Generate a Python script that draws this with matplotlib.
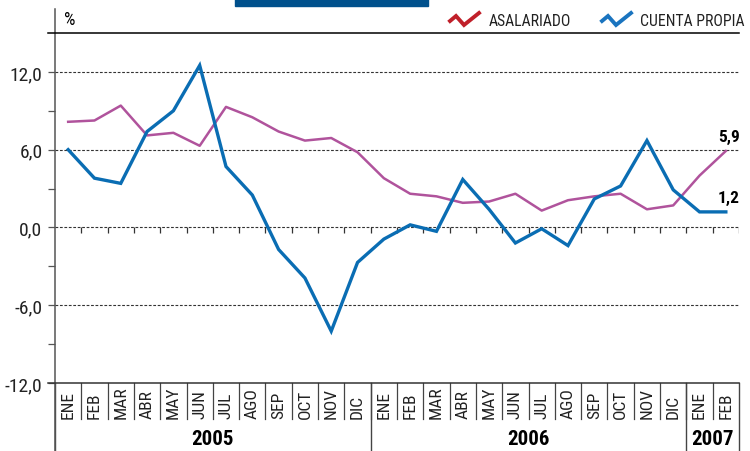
import numpy as np
import matplotlib.pyplot as plt
from matplotlib.lines import Line2D
from matplotlib.patches import Rectangle
import matplotlib.transforms as mtransforms
from matplotlib import font_manager

# pick a narrow font if one is installed
names = {f.name for f in font_manager.fontManager.ttflist}
narrow = [n for n in ['Liberation Sans Narrow', 'DejaVu Sans Condensed', 'Roboto Condensed',
                      'Open Sans Condensed'] if n in names]
plt.rcParams['font.family'] = narrow + ['Liberation Sans', 'DejaVu Sans']
cond = bool(narrow)

months = ['ENE', 'FEB', 'MAR', 'ABR', 'MAY', 'JUN', 'JUL', 'AGO', 'SEP', 'OCT', 'NOV', 'DIC',
          'ENE', 'FEB', 'MAR', 'ABR', 'MAY', 'JUN', 'JUL', 'AGO', 'SEP', 'OCT', 'NOV', 'DIC',
          'ENE', 'FEB']
years = ['2005', '2006', '2007']
year_counts = [12, 12, 2]

asalariado = [8.15, 8.25, 9.4, 7.1, 7.3, 6.3, 9.3, 8.5, 7.4, 6.7, 6.9, 5.8,
              3.8, 2.6, 2.4, 1.9, 2.0, 2.6, 1.3, 2.1, 2.4, 2.6, 1.4, 1.7,
              4.0, 5.9]
cuenta_propia = [6.0, 3.8, 3.4, 7.4, 9.0, 12.5, 4.7, 2.5, -1.7, -3.9, -8.0, -2.7,
                 -0.9, 0.2, -0.3, 3.7, 1.4, -1.2, -0.1, -1.4, 2.2, 3.2, 6.7, 2.9,
                 1.2, 1.2]
y_ticks = [-12, -6, 0, 6, 12]
y_minor = [-9, -3, 3, 9]

PINK = '#B0539C'
BLUE = '#0A6DB3'
W, H = 750, 452

fig = plt.figure(figsize=(7.5, 4.52), dpi=100)
ax = fig.add_axes([55 / W, 1 - 384 / H, 684 / W, 350 / H])


def fx(px):
    return px / W


def fy(py):
    return 1 - py / H


x = np.arange(len(months))
ax.set_xlim(-0.5, len(months) - 0.5)
ax.set_ylim(-12, 15)

# grid lines
for v in y_ticks[1:]:
    ax.axhline(v, color='#333333', lw=0.8, ls=(0, (2.5, 1.5)), zorder=1)

# small ticks on the zero line
bounds = np.arange(0.5, len(months), 1.0)
ax.vlines(bounds, -0.4, 0, color='#333333', lw=0.9, zorder=1)

ax.plot(x, asalariado, color=PINK, lw=1.8, zorder=3, solid_joinstyle='round')
ax.plot(x, cuenta_propia, color=BLUE, lw=2.4, zorder=4, solid_joinstyle='miter')

ax.annotate('5,9', (x[-1], asalariado[-1]), xytext=(2, 5), textcoords='offset points',
            ha='center', va='bottom', fontsize=12.5, fontweight='bold')
ax.annotate('1,2', (x[-1], cuenta_propia[-1]), xytext=(2, 5), textcoords='offset points',
            ha='center', va='bottom', fontsize=12.5, fontweight='bold')

# axes styling
for s in ax.spines.values():
    s.set_visible(False)
ax.set_yticks(y_ticks)
ax.set_yticklabels([f'{v:.1f}'.replace('.', ',') for v in y_ticks],
                   fontsize=14 if cond else 11, color='#222222')
ax.set_yticks(y_minor, minor=True)
ax.tick_params(axis='y', which='both', length=5, width=0.9, color='#555555', pad=4)
ax.set_xticks([])

# frame lines outside the axes
fig.add_artist(Line2D([fx(54.5), fx(54.5)], [fy(10), fy(452)], color='#555555', lw=1.1))
fig.add_artist(Line2D([fx(48), fx(739)], [fy(34), fy(34)], color='black', lw=1.1))
fig.add_artist(Line2D([fx(48), fx(739)], [fy(384), fy(384)], color='#333333', lw=1.1))

# month separators and labels
trans = mtransforms.blended_transform_factory(ax.transData, ax.transAxes)
for b in bounds[:-1]:
    ax.plot([b, b], [0, -0.103], color='#444444', lw=0.9, transform=trans, clip_on=False)
for i, m in enumerate(months):
    ax.text(i, -0.1, m, rotation=90, ha='center', va='bottom', fontsize=12.5 if cond else 10,
            transform=trans, color='#222222')

# year separators and labels
edges = np.concatenate([[0], np.cumsum(year_counts)]) - 0.5
for e in edges:
    ax.plot([e, e], [0, -0.2], color='#444444', lw=1.0, transform=trans, clip_on=False)
for yr, a, b in zip(years, edges[:-1], edges[1:]):
    ax.text((a + b) / 2, -0.16, yr, ha='center', va='center', fontsize=15 if cond else 12,
            fontweight='bold', transform=trans)

# header
fig.text(fx(64), fy(20), '%', fontsize=13, va='center', ha='left')
fig.add_artist(Rectangle((fx(235), fy(7)), fx(193), 7 / H, color='#00508C'))

icon = np.array([[0, 8], [6, 3], [14, 12], [29, 0]], dtype=float)
for x0, col, label, tx in [(450, '#C0202A', 'ASALARIADO', 489), (602, '#1A74BF', 'CUENTA PROPIA', 640)]:
    fig.add_artist(Line2D([fx(x0 + p[0]) for p in icon], [fy(14 + p[1]) for p in icon],
                          color=col, lw=2.8, solid_joinstyle='miter'))
    fig.text(fx(tx), fy(21), label, fontsize=11.3 if cond else 9, va='center', ha='left',
             color='#222222')

fig.savefig('out.png', dpi=100)
